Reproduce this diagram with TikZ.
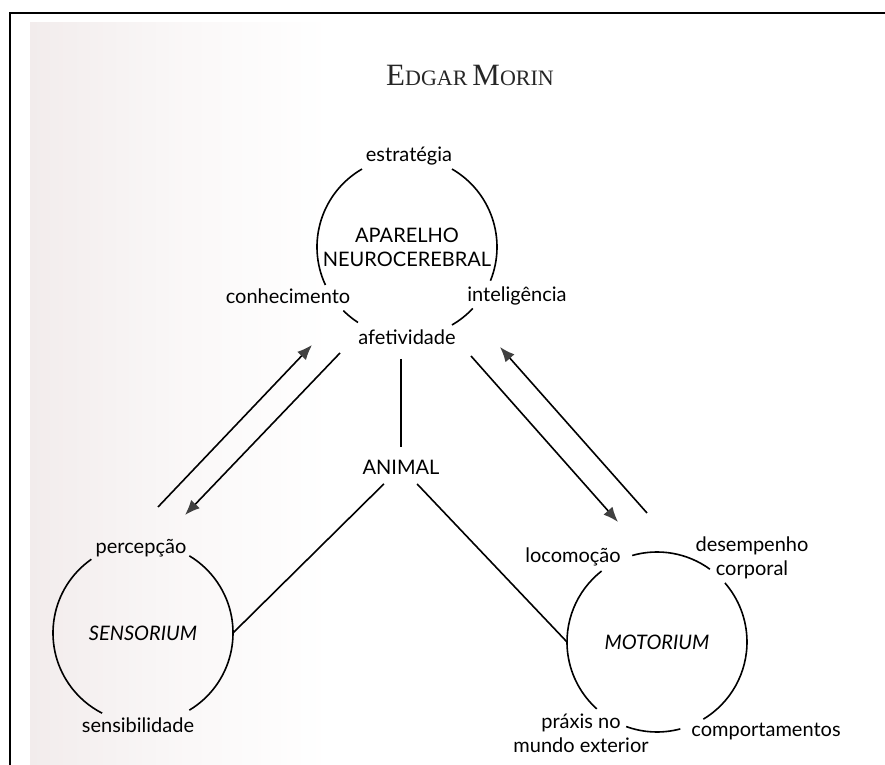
\documentclass[tikz,border=0pt]{standalone}
\usepackage{fontspec}
\setmainfont{Lato}
\newfontfamily\titlefont{Liberation Serif}
\usetikzlibrary{arrows.meta}
\definecolor{scan}{RGB}{242,236,236}
\tikzset{
  lbl/.style={font=\fontsize{10}{12}\selectfont, inner sep=1pt},
  ring/.style={circle, minimum size=90pt, inner sep=0pt, outer sep=0pt},
  ln/.style={line width=0.8pt},
  arr/.style={ln, -{Latex[length=7.5pt,width=6pt,color=black!75]}}
}
\begin{document}
\begin{tikzpicture}[x=0.5pt, y=0.5pt]
  \useasboundingbox (0,0) rectangle (885,765);
  \shade[left color=scan, right color=white, middle color=scan!40] (30,0) rectangle (330,742);
  \draw[line width=1.2pt] (10,0) -- (10,752) -- (885,752);

  \node[font=\titlefont, text=black!85] (tit) at (470,690) {{\fontsize{15.5}{15}\selectfont E}{\fontsize{11}{15}\selectfont DGAR} {\fontsize{15.5}{15}\selectfont M}{\fontsize{11}{15}\selectfont ORIN}};

  \node[ring] (cer) at (407,518) {};
  \node[lbl, align=center] (cert) at (cer) {APARELHO\\NEUROCEREBRAL};
  \draw[ln] (cer.120) arc[start angle=120, end angle=205, radius=45pt];
  \draw[ln] (cer.225) arc[start angle=225, end angle=237, radius=45pt];
  \draw[ln] (cer.300) arc[start angle=300, end angle=317, radius=45pt];
  \draw[ln] (cer.338) arc[start angle=338, end angle=420, radius=45pt];
  \node[lbl] (est) at (409,609) {estratégia};
  \node[lbl] (con) at (288,469) {conhecimento};
  \node[lbl] (int) at (517,469) {inteligência};
  \node[lbl] (afe) at (407,428) {afetividade};

  \node[lbl] (ani) at (401,298) {ANIMAL};

  \node[ring] (sen) at (143,132) {};
  \node[lbl] (sent) at (sen) {\itshape SENSORIUM};
  \draw[ln] (sen.301) arc[start angle=301, end angle=419, radius=45pt];
  \draw[ln] (sen.125) arc[start angle=125, end angle=243, radius=45pt];
  \node[lbl] (per) at (141,217) {percepção};
  \node[lbl] (sens) at (138,40) {sensibilidade};

  \node[ring] (mot) at (657,123) {};
  \node[lbl] (mott) at (mot) {\itshape MOTORIUM};
  \draw[ln] (mot.54) arc[start angle=54, end angle=106, radius=45pt];
  \draw[ln] (mot.128) arc[start angle=128, end angle=228, radius=45pt];
  \draw[ln] (mot.250) arc[start angle=250, end angle=285, radius=45pt];
  \draw[ln] (mot.301) arc[start angle=301, end angle=401, radius=45pt];
  \node[lbl] (loc) at (573,208) {locomoção};
  \node[lbl, align=center] (des) at (752,207) {desempenho\\corporal};
  \node[lbl, align=center] (pra) at (581,32) {práxis no\\mundo exterior};
  \node[lbl] (com) at (766,33) {comportamentos};

  \draw[ln, shorten <=6pt, shorten >=5pt] (afe.south -| ani.north) -- (ani.north);
  \draw[ln, shorten <=12pt] (ani.center) -- (sen.east);
  \draw[ln, shorten <=11.7pt] (ani.center) -- (mot.west);

  \coordinate (s1) at (158,258);
  \coordinate (s2) at (312,420);
  \coordinate (s3) at (340,412);
  \coordinate (s4) at (185,250);
  \coordinate (m1) at (471,409);
  \coordinate (m2) at (618,243);
  \coordinate (m3) at (647,252);
  \coordinate (m4) at (500,418);
  \draw[arr] (s1) -- (s2);
  \draw[arr] (s3) -- (s4);
  \draw[arr] (m1) -- (m2);
  \draw[arr] (m3) -- (m4);
\end{tikzpicture}
\end{document}
